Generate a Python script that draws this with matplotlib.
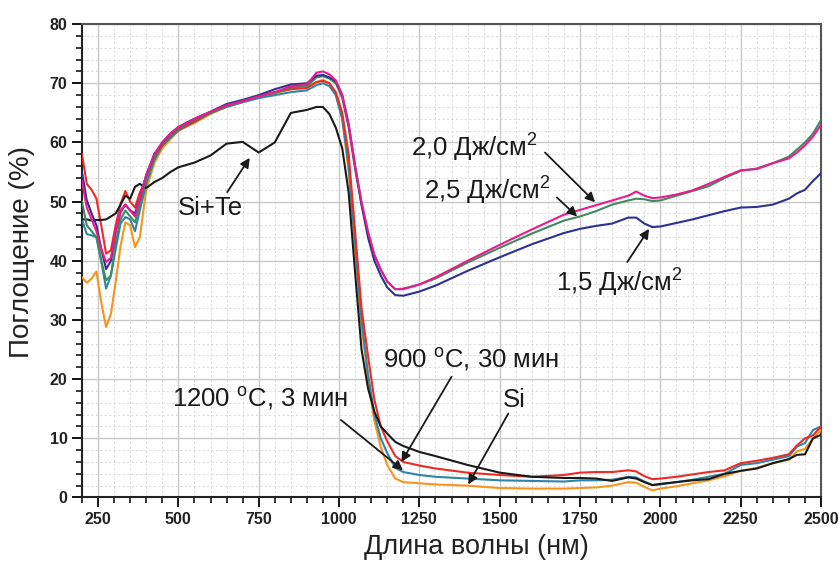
import matplotlib
matplotlib.use("Agg")
import matplotlib.pyplot as plt
from matplotlib.ticker import MultipleLocator

plt.rcParams['font.family'] = ['Liberation Sans', 'DejaVu Sans']
plt.rcParams['mathtext.fontset'] = 'custom'
plt.rcParams['mathtext.rm'] = 'Liberation Sans'

# ------------------ DATA ------------------

wl = [200, 215, 230, 245, 260, 275, 290, 305, 320, 335,
      350, 365, 380, 400, 425, 450, 475, 500, 550, 600,
      650, 700, 750, 800, 850, 900, 930, 950, 970, 990,
      1010, 1030, 1050, 1070, 1090, 1110, 1130, 1150, 1175, 1200,
      1250, 1300, 1400, 1500, 1600, 1700, 1750, 1800, 1850, 1900,
      1925, 1950, 1975, 2000, 2050, 2100, 2150, 2200, 2250, 2300,
      2350, 2400, 2425, 2450, 2475, 2500]

si_te = [47, 47, 46.8, 46.9, 46.9, 47, 47.5, 48, 49.5, 51,
         50.5, 52.5, 53, 52.3, 53.3, 54, 55, 55.8, 56.6, 57.8,
         59.8, 60.1, 58.3, 60, 65, 65.5, 66, 66, 64.8, 62.5,
         59, 51.5, 38, 25, 18.5, 14.5, 12, 10.8, 9.4, 8.7,
         7.7, 7, 5.5, 4.2, 3.5, 3.3, 3.3, 3.2, 2.8, 3.4,
         3.2, 2.6, 2.1, 2.3, 2.6, 2.9, 3.1, 4.0, 4.5, 4.9,
         5.8, 6.5, 7.2, 7.3, 10.0, 10.6]

t900 = [58, 53, 52, 50.5, 46, 41.2, 41.8, 46, 49.6, 51.8,
        50, 49, 51.5, 54, 57.5, 59.5, 61, 62.2, 63.5, 65,
        66.2, 67, 67.8, 68.5, 69, 69.2, 70.2, 70.4, 70, 68.5,
        65, 58, 45, 32, 24, 16.5, 12, 9.5, 7, 6,
        5.4, 4.9, 4.2, 3.8, 3.5, 3.8, 4.2, 4.3, 4.3, 4.6,
        4.4, 3.6, 3.1, 3.2, 3.5, 3.9, 4.3, 4.6, 5.8, 6.2,
        6.7, 7.3, 8.8, 10, 10.5, 12]

t1200 = [47, 44.5, 44.3, 44, 40, 35.3, 37.5, 42, 46.3, 47.4,
         47, 45, 48.5, 53, 57, 59.5, 60.8, 62, 63.5, 65,
         66, 66.8, 67.5, 68, 68.5, 68.8, 69.7, 70, 69.5, 68,
         64, 56, 43, 30, 21, 14, 10, 7.5, 5, 4.3,
         3.8, 3.5, 3.2, 2.9, 2.8, 2.7, 2.9, 2.9, 3.0, 3.5,
         3.4, 2.7, 2.1, 2.2, 2.6, 3.0, 3.5, 4.0, 5.5, 5.8,
         6.4, 7.0, 8.6, 9.2, 11.4, 12]

si = [37.2, 36.3, 37, 38.2, 33, 28.8, 31, 36.5, 42.5, 46.5,
      46, 42.3, 44, 52, 56.5, 59, 60.5, 62, 63.3, 64.8,
      66, 66.8, 67.6, 68.3, 69, 69.5, 70.2, 70.6, 70, 68,
      64, 55, 42, 29, 20, 13, 8.5, 5.5, 3.2, 2.6,
      2.4, 2.2, 2.0, 1.6, 1.5, 1.5, 1.6, 1.7, 2.0, 2.6,
      2.5, 1.8, 1.2, 1.5, 1.9, 2.4, 2.9, 3.6, 4.5, 5.0,
      5.8, 6.4, 7.8, 8.2, 10, 11.4]

f20 = [53.5, 49, 47, 45, 42, 39.8, 40.5, 45, 48.5, 49.5,
       48.5, 47.5, 50.5, 54.5, 58, 60, 61.5, 62.6, 64, 65.2,
       66.3, 67, 67.8, 68.5, 69.5, 69.8, 71.8, 72, 71.5, 70.5,
       68, 63, 56, 50, 45, 41, 38.5, 36.5, 35.2, 35.2,
       36, 37.2, 40, 42.7, 45.3, 47.8, 48.6, 49.4, 50.2, 51,
       51.7, 51, 50.6, 50.7, 51.2, 51.9, 53, 54.2, 55.3, 55.5,
       56.5, 57.3, 58.3, 59.5, 61, 63]

f25 = [50, 46, 45, 44, 40, 36.7, 37.5, 43, 47, 48.5,
       47.5, 46.5, 49.5, 54, 57.5, 59.8, 61.2, 62.4, 63.8, 65,
       66.2, 67, 67.8, 68.4, 69.3, 69.5, 71, 71.2, 70.8, 70,
       67.5, 62.5, 55.5, 49.5, 44.8, 41, 38.5, 36.5, 35.2, 35.3,
       36, 37, 39.7, 42.2, 44.6, 46.8, 47.5, 48.4, 49.5, 50.2,
       50.5, 50.4, 50.1, 50.2, 51, 51.8, 52.6, 54, 55.2, 55.6,
       56.5, 57.6, 58.8, 60, 61.5, 63.8]

f15 = [55, 50.2, 48, 46, 42, 38.6, 40, 45, 48.2, 49.5,
       48.5, 48, 50.5, 54.5, 58, 60, 61.5, 62.6, 64, 65.2,
       66.5, 67.2, 68, 69, 69.8, 70, 71.3, 71.4, 71, 70.3,
       68, 63, 56, 49.5, 44, 40, 37.5, 35.5, 34.2, 34.1,
       34.8, 35.8, 38.3, 40.6, 42.8, 44.7, 45.4, 45.9, 46.3, 47.3,
       47.3, 46.3, 45.7, 45.8, 46.4, 47, 47.7, 48.4, 49, 49.1,
       49.5, 50.5, 51.4, 52, 53.5, 54.8]

series = [
    (si, "#f7941d"),
    (t1200, "#2f85a8"),
    (t900, "#ee2a24"),
    (si_te, "#1a1a1a"),
    (f25, "#3f8a5e"),
    (f15, "#2e3192"),
    (f20, "#ec1a8c"),
]

# (text, text position, arrow tail, arrow tip)
notes = [
    ("Si+Te", (600, 49), (652, 51.6), (722, 57.4)),
    ("2,0 Дж/см$^{2}$", (1422, 59.3), (1641, 58.3), (1797, 49.9)),
    ("2,5 Дж/см$^{2}$", (1462, 52.1), (1678, 50.7), (1741, 47.5)),
    ("1,5 Дж/см$^{2}$", (1872, 36.5), (1897, 39.8), (1965, 45.4)),
    ("900 $^{\\mathrm{o}}$C, 30 мин", (1412, 23.4), (1350, 20.4), (1194, 6.0)),
    ("Si", (1544, 16.4), (1527, 14.2), (1402, 2.2)),
    ("1200 $^{\\mathrm{o}}$C, 3 мин", (755, 16.8), (1006, 13.1), (1199, 4.6)),
]

# ------------------ PLOT ------------------

fig = plt.figure(figsize=(8.39, 5.61), dpi=100)
ax = fig.add_axes([0.0977, 0.1132, 0.8809, 0.8438])

for ys, c in series:
    ax.plot(wl, ys, color=c, lw=1.5, zorder=3)

for txt, tpos, tail, tip in notes:
    ax.text(tpos[0], tpos[1], txt, fontsize=18.5, ha="center", va="center",
            color="#1a1a1a", zorder=5)
    ax.annotate("", xy=tip, xytext=tail,
                arrowprops=dict(arrowstyle="-|>", color="#1a1a1a", lw=1.3,
                                mutation_scale=14, shrinkA=0, shrinkB=0),
                zorder=5)

ax.set_xlim(200, 2500)
ax.set_ylim(0, 80)
ax.xaxis.set_major_locator(MultipleLocator(250))
ax.xaxis.set_minor_locator(MultipleLocator(50))
ax.yaxis.set_major_locator(MultipleLocator(10))
ax.yaxis.set_minor_locator(MultipleLocator(2))

ax.grid(which="major", color="#c8c8c8", lw=1.0, zorder=0)
ax.grid(which="minor", color="#dcdcdc", lw=0.8, ls=(0, (2, 2)), zorder=0)
ax.set_axisbelow(True)

ax.tick_params(which="major", direction="out", length=7, width=1.3,
               labelsize=11.5, top=False, right=False)
ax.tick_params(which="minor", direction="out", length=4, width=1.1,
               top=False, right=False)
for lab in ax.get_xticklabels() + ax.get_yticklabels():
    lab.set_fontweight("bold")
    lab.set_color("#222222")

for side in ["left", "bottom"]:
    ax.spines[side].set_linewidth(1.5)
    ax.spines[side].set_color("#222222")
for side in ["top", "right"]:
    ax.spines[side].set_linewidth(1.5)
    ax.spines[side].set_color("#555555")

ax.set_xlabel("Длина волны (нм)", fontsize=19.5, color="#222222")
ax.xaxis.set_label_coords(0.533, -0.077)
ax.set_ylabel("Поглощение (%)", fontsize=20, color="#222222")
ax.yaxis.set_label_coords(-0.064, 0.518)

fig.savefig("out.png", dpi=100)
